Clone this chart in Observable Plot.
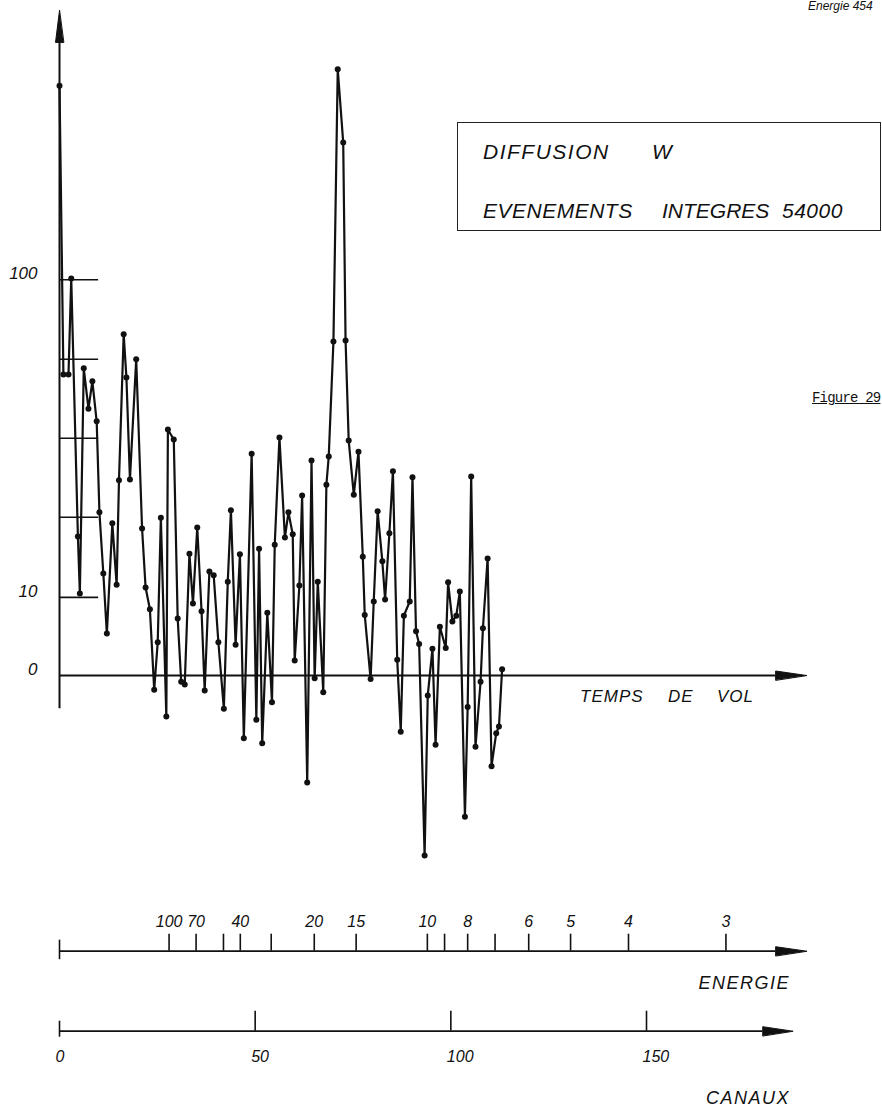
<!DOCTYPE html>
<html>
<head>
<meta charset="utf-8">
<script src="https://cdn.jsdelivr.net/npm/d3@7"></script>
<script src="https://cdn.jsdelivr.net/npm/@observablehq/plot@0.6"></script>
<style>
  html, body { margin: 0; padding: 0; background: #fff; }
  #wrap { position: relative; width: 882px; height: 1111px; overflow: hidden;
          font-family: "Liberation Sans", Arial, sans-serif; color: #111; }
  #wrap svg { display: block; }
  .ov { position: absolute; white-space: pre; font-style: italic; line-height: 1; }
  .box { position: absolute; left: 457px; top: 122px; width: 422px; height: 107px;
         border: 1.4px solid #222; }
</style>
</head>
<body>
<div id="wrap"></div>
<script>
// ---- data ----
// channel (canal) of each plotted point
const canaux = [0, 1.0, 2.3, 3.0, 4.7, 5.2, 6.2, 7.4, 8.4, 9.5,
  10.2, 11.2, 12.1, 13.5, 14.6, 15.2, 16.4, 17.1, 18.0, 19.6,
  21.1, 22.0, 23.1, 24.2, 25.1, 25.9, 27.3, 27.7, 29.2, 30.2,
  31.1, 32.0, 33.2, 34.1, 35.2, 36.3, 37.1, 38.3, 39.4, 40.6,
  42.0, 43.0, 43.8, 45.0, 46.1, 47.1, 49.1, 50.3, 51.0, 51.8,
  53.1, 54.3, 55.0, 56.2, 57.6, 58.5, 59.6, 60.1, 61.3, 62.0,
  63.3, 64.4, 65.2, 66.0, 67.4, 68.2, 68.8, 70.0, 71.1, 72.5,
  73.1, 73.9, 75.2, 76.4, 77.5, 78.0, 79.5, 80.3, 81.3, 82.5,
  83.2, 84.3, 85.2, 86.3, 87.2, 88.0, 89.5, 90.2, 91.1, 91.9,
  93.3, 94.1, 95.3, 96.1, 97.2, 98.7, 99.3, 100.4, 101.4, 102.3,
  103.6, 104.3, 105.2, 106.3, 107.6, 108.2, 109.4, 110.4, 111.6, 112.3,
  113.1];
// counts per point (time-of-flight spectrum)
const coups = [238, 61.4, 61.4, 100.6, 20.1, 10.6, 63.5, 50.5, 59.1, 46.8,
  24.8, 13.7, 5.0, 22.6, 11.9, 31.7, 76.1, 60.4, 31.9, 66.7,
  21.6, 11.5, 8.3, -1.6, 3.9, 23.7, -4.9, 44.5, 41.8, 7.0,
  -0.7, -1.0, 17.0, 9.1, 21.8, 8.0, -1.7, 14.0, 13.4, 3.9,
  -3.9, 12.4, 25.2, 3.6, 16.9, -7.8, 38.1, -5.3, 17.9, -8.5,
  7.8, -3.1, 18.6, 42.3, 19.9, 24.8, 20.5, 1.7, 11.8, 28.3,
  -14.5, 36.4, -0.3, 12.4, -1.9, 30.7, 37.4, 73.3, 255, 186.9,
  73.7, 41.5, 28.5, 38.6, 16.5, 7.5, -0.4, 9.4, 25.0, 15.7,
  9.7, 20.7, 33.8, 1.8, -6.9, 7.4, 9.4, 32.4, 5.3, 3.7,
  -28.3, -2.3, 3.1, -8.7, 5.9, 3.2, 12.3, 6.6, 7.4, 10.9,
  -20.5, -3.7, 32.6, -9.0, -0.7, 5.7, 16.2, -11.9, -7.1, -6.2,
  0.7];

// vertical axis tick lines and labels
const yTickValues = [10, 23.8, 42.1, 66.7, 100];
const yLabelValues = [0, 10, 100];

// energy scale (ENERGIE) : tick energies, their channel positions, labels
const energyValues = [100, 70, 50, 40, 30, 20, 15, 10, 9, 8, 7, 6, 5, 4, 3];
const energyCanal  = [28.0, 34.9, 41.9, 46.2, 54.1, 65.1, 75.8, 94.0, 98.4, 104.3, 111.3, 119.9, 130.6, 145.4, 170.3];
const energyLabels = ["100", "70", "", "40", "", "20", "15", "10", "", "8", "", "6", "5", "4", "3"];

// channel scale (CANAUX)
const canauxTicks = [0, 50, 100, 150];

// ---- chart geometry (data units) ----
const axisEnd = 183;        // end of the horizontal axis shafts (channels)
const canauxAxisEnd = 179.7;
const yAxisBottom = -3.9, yAxisTop = 285;

const data = canaux.map((c, i) => ({canal: c, coups: coups[i]}));
const energyTable = energyCanal.map((c, i) => ({canal: c, energie: energyValues[i], label: energyLabels[i]}));

const arrowHead = {
  draw(context, l, r) {
    context.moveTo(0, -l);
    context.lineTo(-r, 0);
    context.lineTo(r, 0);
    context.closePath();
  }
};

const xScale = {domain: [0, 150], range: [59, 646], axis: null};
const baseStyle = {fontFamily: "Liberation Sans, Arial, sans-serif", background: "#fff", color: "#111"};

const main = Plot.plot({
  width: 882, height: 890, margin: 0,
  style: baseStyle,
  x: xScale,
  y: {type: "symlog", constant: 29.5, domain: [0, 100], range: [675, 279.3], axis: null},
  marks: [
    Plot.ruleY([0], {x1: 0, x2: axisEnd, stroke: "#111", strokeWidth: 1.8}),
    Plot.vector([0], {x: axisEnd, y: 0, rotate: 90, length: 31, r: 4.5, anchor: "start",
                      shape: arrowHead, fill: "#111", stroke: "#111", strokeWidth: 1}),
    Plot.ruleX([0], {y1: yAxisBottom, y2: yAxisTop, stroke: "#111", strokeWidth: 2}),
    Plot.vector([0], {x: 0, y: yAxisTop, rotate: 0, length: 32, r: 4, anchor: "start",
                      shape: arrowHead, fill: "#111", stroke: "#111", strokeWidth: 1}),
    Plot.ruleY(yTickValues, {x1: 0, x2: 10, stroke: "#111", strokeWidth: 1.6}),
    Plot.text(yLabelValues, {x: 0, y: d => d, text: d => String(d), dx: -22, dy: -6,
                             textAnchor: "end", fontSize: 17, fontStyle: "italic", fill: "#111"}),
    Plot.line(data, {x: "canal", y: "coups", stroke: "#111", strokeWidth: 2.2, strokeLinejoin: "round"}),
    Plot.dot(data, {x: "canal", y: "coups", r: 3, fill: "#111", stroke: "none"})
  ]
});

const energy = Plot.plot({
  width: 882, height: 110, margin: 0,
  style: baseStyle,
  x: xScale,
  y: {domain: [0, 1], range: [60.7, 43.7], axis: null},
  marks: [
    Plot.ruleY([0], {x1: 0, x2: axisEnd, stroke: "#111", strokeWidth: 1.8}),
    Plot.vector([0], {x: axisEnd, y: 0, rotate: 90, length: 31, r: 4.5, anchor: "start",
                      shape: arrowHead, fill: "#111", stroke: "#111", strokeWidth: 1}),
    Plot.ruleX([0], {y1: -0.5, y2: 0.65, stroke: "#111", strokeWidth: 1.6}),
    Plot.ruleX(energyTable, {x: "canal", y1: 0, y2: 1, stroke: "#111", strokeWidth: 1.6}),
    Plot.text(energyTable.filter(d => d.label), {x: "canal", y: 1, text: "label", dy: -12,
                            fontSize: 16, fontStyle: "italic", fill: "#111"})
  ]
});

const canauxAxis = Plot.plot({
  width: 882, height: 111, margin: 0,
  style: baseStyle,
  x: xScale,
  y: {domain: [0, 1], range: [30.7, 10.7], axis: null},
  marks: [
    Plot.ruleY([0], {x1: 0, x2: canauxAxisEnd, stroke: "#111", strokeWidth: 1.8}),
    Plot.vector([0], {x: canauxAxisEnd, y: 0, rotate: 90, length: 30, r: 4.5, anchor: "start",
                      shape: arrowHead, fill: "#111", stroke: "#111", strokeWidth: 1}),
    Plot.ruleX([0], {y1: -0.3, y2: 0.5, stroke: "#111", strokeWidth: 1.6}),
    Plot.ruleX(canauxTicks.filter(d => d > 0), {y1: 0, y2: 1, stroke: "#111", strokeWidth: 1.6}),
    Plot.text(canauxTicks, {x: d => d, y: 0, text: d => String(d), dy: 26, dx: -4, textAnchor: "start",
                            fontSize: 16, fontStyle: "italic", fill: "#111"})
  ]
});

const wrap = document.getElementById("wrap");
wrap.appendChild(main);
wrap.appendChild(energy);
wrap.appendChild(canauxAxis);

function overlay(text, css) {
  const d = document.createElement("div");
  d.className = "ov";
  d.textContent = text;
  Object.assign(d.style, css);
  wrap.appendChild(d);
  return d;
}
const box = document.createElement("div");
box.className = "box";
wrap.appendChild(box);

overlay("Energie 454", {left: "808px", top: "0px", fontSize: "12px"});
overlay("DIFFUSION", {left: "483px", top: "141px", fontSize: "21px", letterSpacing: "1.5px"});
overlay("W", {left: "652px", top: "141px", fontSize: "21px"});
overlay("EVENEMENTS", {left: "483px", top: "199.5px", fontSize: "21px", letterSpacing: "0.5px"});
overlay("INTEGRES", {left: "662px", top: "199.5px", fontSize: "21px", letterSpacing: "0px"});
overlay("54000", {left: "782px", top: "199.5px", fontSize: "21px", letterSpacing: "0.5px"});
overlay("TEMPS", {left: "580px", top: "688px", fontSize: "17px", letterSpacing: "1px"});
overlay("DE", {left: "668px", top: "688px", fontSize: "17px", letterSpacing: "1px"});
overlay("VOL", {left: "717px", top: "688px", fontSize: "17px", letterSpacing: "1px"});
overlay("ENERGIE", {right: "92px", top: "974px", fontSize: "18px", letterSpacing: "1.5px"});
overlay("CANAUX", {right: "92px", top: "1089px", fontSize: "18px", letterSpacing: "1.5px"});
overlay("Figure 29", {left: "812px", top: "391px", fontSize: "14px", fontStyle: "normal", letterSpacing: "-0.8px",
  fontFamily: "'Liberation Mono', 'DejaVu Sans Mono', monospace", textDecoration: "underline"});
</script>
</body>
</html>
